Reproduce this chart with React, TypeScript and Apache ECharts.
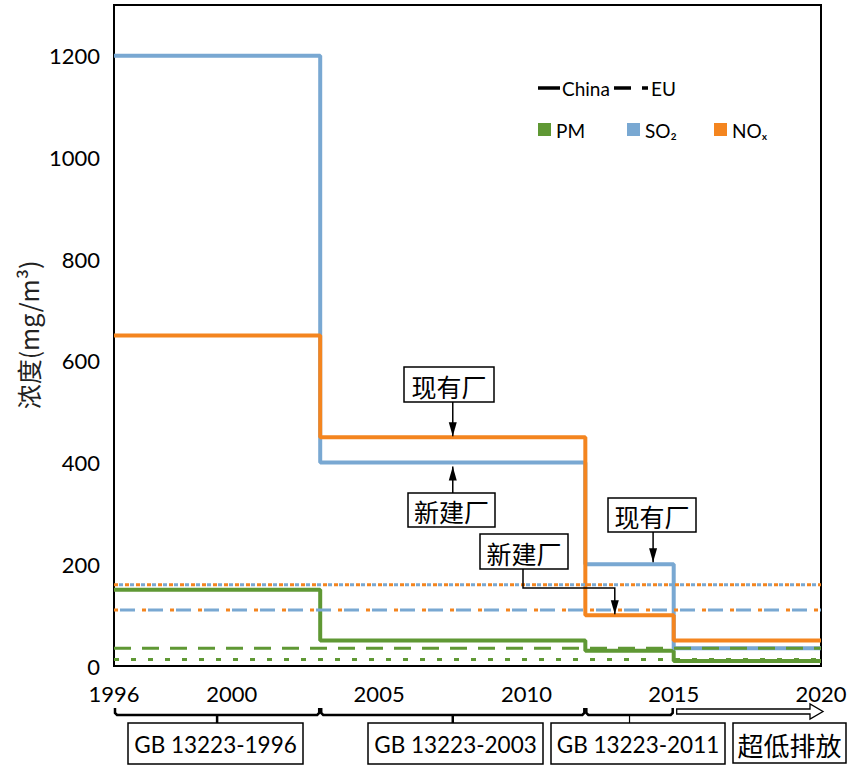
import React, { useEffect, useRef } from "react";
import * as echarts from "echarts";

// ---- data ----
const stepYears = [1996, 2003, 2012, 2015, 2020];
const pmChina = [150, 50, 30, 10, 10];
const so2China = [1200, 400, 200, 35, 35];
const noxChina = [650, 450, 100, 50, 50];

const euYears = [1996, 2020];
const euSo2NoxDotted = [160, 160];
const euSo2NoxDashed = [110, 110];
const euPmDashed = [35, 35];
const euPmDotted = [13, 13];

const xTickLabels = [1996, 2000, 2005, 2010, 2015, 2020];
const yTickLabels = [0, 200, 400, 600, 800, 1000, 1200];

const standards = [
  { name: "GB 13223-1996", from: 1996, to: 2003 },
  { name: "GB 13223-2003", from: 2003, to: 2012 },
  { name: "GB 13223-2011", from: 2012, to: 2015 },
];
const ultraLow = { name: "超低排放", from: 2015, to: 2020 };

const GREEN = "#5f9834";
const BLUE = "#79a8d2";
const ORANGE = "#f4851f";
const LATIN = "Lato, 'Noto Sans', sans-serif";
const CJK = "'Noto Sans CJK SC', 'Noto Sans', sans-serif";

const pairs = (xs: number[], ys: number[]) => xs.map((x, i) => [x, ys[i]]);

export default function App() {
  const ref = useRef<HTMLDivElement>(null);

  useEffect(() => {
    if (!ref.current) return;
    const chart = echarts.init(ref.current, null, { renderer: "svg" });

    const china = (name: string, ys: number[], color: string, z: number) => ({
      type: "line",
      name,
      data: pairs(stepYears, ys),
      step: "end",
      symbol: "none",
      silent: true,
      z,
      lineStyle: { color, width: 4 },
    });
    const eu = (name: string, ys: number[], color: string, dash: number[], offset: number, z: number) => ({
      type: "line",
      name,
      data: pairs(euYears, ys),
      symbol: "none",
      silent: true,
      z,
      lineStyle: { color, width: 3, type: dash, dashOffset: offset },
    });

    const option: any = {
      animation: false,
      backgroundColor: "#fff",
      grid: {
        left: 114,
        right: 30,
        top: 5,
        bottom: 100,
        show: true,
        borderColor: "#000",
        borderWidth: 2,
        backgroundColor: "transparent",
      },
      xAxis: {
        type: "value",
        min: 1996,
        max: 2020,
        interval: 1,
        axisLine: { show: true, lineStyle: { color: "#000", width: 2 } },
        axisTick: { show: false },
        splitLine: { show: false },
        axisLabel: {
          color: "#000",
          fontSize: 22,
          lineHeight: 20,
          fontFamily: LATIN,
          margin: 17,
          formatter: (v: number) => (xTickLabels.includes(v) ? String(v) : ""),
        },
      },
      yAxis: {
        type: "value",
        min: 0,
        max: 1300,
        interval: 200,
        axisLine: { show: true, lineStyle: { color: "#000", width: 2 } },
        axisTick: { show: false },
        splitLine: { show: false },
        axisLabel: {
          color: "#000",
          fontSize: 22,
          lineHeight: 20,
          fontFamily: LATIN,
          margin: 14,
          padding: [0, 0, 8, 0],
          formatter: (v: number) => (yTickLabels.includes(v) ? String(v) : ""),
        },
      },
      series: [
        china("PM China", pmChina, GREEN, 2),
        china("SO2 China", so2China, BLUE, 3),
        china("NOx China", noxChina, ORANGE, 4),
        eu("NOx EU dotted", euSo2NoxDotted, ORANGE, [4, 7], 0, 5),
        eu("SO2 EU dotted", euSo2NoxDotted, BLUE, [4, 7], 5.5, 6),
        eu("NOx EU dashed", euSo2NoxDashed, ORANGE, [4, 24], 0, 5),
        eu("SO2 EU dashed", euSo2NoxDashed, BLUE, [15, 13], 22, 6),
        eu("PM EU dashed", euPmDashed, GREEN, [17, 11], 0, 7),
        eu("PM EU dotted", euPmDotted, GREEN, [5, 12], 0, 7),
      ],
    };
    chart.setOption(option);

    const px = (x: number, y: number) => chart.convertToPixel({ gridIndex: 0 } as any, [x, y]) as number[];
    const X = (year: number) => px(year, 0)[0];
    const Y = (v: number) => px(1996, v)[1];

    const g: any[] = [];
    const Z = 100;
    const box = (x0: number, y0: number, x1: number, y1: number, text: string, fontSize: number, font: string) => {
      g.push({
        type: "rect",
        z: Z,
        shape: { x: x0, y: y0, width: x1 - x0, height: y1 - y0 },
        style: { fill: "#fff", stroke: "#000", lineWidth: 1.5 },
      });
      g.push({
        type: "text",
        z: Z + 1,
        x: (x0 + x1) / 2,
        y: (y0 + y1) / 2 + 1,
        style: { text, fontSize, fontFamily: font, fill: "#000", align: "center", verticalAlign: "middle" },
      });
    };
    const line = (pts: number[][], w = 1.5) =>
      g.push({ type: "polyline", z: Z, shape: { points: pts }, style: { stroke: "#000", lineWidth: w, fill: null } });
    const head = (x: number, y: number, dir: 1 | -1) =>
      g.push({
        type: "polygon",
        z: Z,
        shape: { points: [[x - 4, y - dir * 14], [x + 4, y - dir * 14], [x, y]] },
        style: { fill: "#000" },
      });

    // annotations
    const a1x = X(2007.5);
    box(404, 367, 494, 402, "现有厂", 25, CJK);
    line([[a1x, 402], [a1x, Y(450) - 1]]);
    head(a1x, Y(450) - 1, 1);

    box(408, 493, 495, 527, "新建厂", 25, CJK);
    line([[a1x, 493], [a1x, Y(400) + 4]]);
    head(a1x, Y(400) + 4, -1);

    const a3x = X(2014.3);
    box(608, 498, 696, 532, "现有厂", 25, CJK);
    line([[a3x, 532], [a3x, Y(200) - 2]]);
    head(a3x, Y(200) - 2, 1);

    const a4x = X(2013.0);
    box(480, 534, 568, 569, "新建厂", 25, CJK);
    line([[523, 569], [523, 588], [a4x, 588], [a4x, Y(100) - 1]]);
    head(a4x, Y(100) - 1, 1);

    // braces for standards
    const by = 715;
    const boxes = [
      [128, 303],
      [368, 543],
      [551, 725],
    ];
    standards.forEach((s, i) => {
      const x0 = X(s.from);
      const x1 = X(s.to);
      const xc = (x0 + x1) / 2;
      line(
        [
          [x0 + 1, by - 7],
          [x0 + 1, by - 2],
          [x0 + 3, by],
          [x1 - 3, by],
          [x1 - 1, by - 2],
          [x1 - 1, by - 7],
        ],
        2.5
      );
      line([[xc, by], [xc, 723]], i === 2 ? 1.2 : 2.5);
      box(boxes[i][0], 723, boxes[i][1], 764, s.name, 22.5, LATIN);
    });

    // hollow arrow for ultra-low emission
    const ax0 = X(ultraLow.from) + 3;
    const ax1 = X(ultraLow.to) + 2;
    g.push({
      type: "polygon",
      z: Z,
      shape: {
        points: [
          [ax0, 709],
          [ax1 - 13, 709],
          [ax1 - 13, 704],
          [ax1, 711.5],
          [ax1 - 13, 719],
          [ax1 - 13, 714],
          [ax0, 714],
        ],
      },
      style: { fill: "#fff", stroke: "#000", lineWidth: 1.3 },
    });
    box(733, 723, 846, 763, ultraLow.name, 26, CJK);

    // y-axis title
    g.push({
      type: "text",
      z: Z,
      x: 28,
      y: 335,
      rotation: Math.PI / 2,
      style: {
        text: "浓度(mg/m³)",
        fontSize: 25,
        fontFamily: CJK,
        fill: "#222",
        align: "center",
        verticalAlign: "middle",
      },
    });

    // legend
    g.push({ type: "line", z: Z, shape: { x1: 538, y1: 88, x2: 560, y2: 88 }, style: { stroke: "#000", lineWidth: 3.5 } });
    g.push({ type: "text", z: Z, x: 562, y: 88, style: { text: "China", fontSize: 19, fontFamily: LATIN, fill: "#000", verticalAlign: "middle" } });
    g.push({ type: "line", z: Z, shape: { x1: 614, y1: 88, x2: 631, y2: 88 }, style: { stroke: "#000", lineWidth: 3.5 } });
    g.push({ type: "line", z: Z, shape: { x1: 642, y1: 88, x2: 648, y2: 88 }, style: { stroke: "#000", lineWidth: 3.5 } });
    g.push({ type: "text", z: Z, x: 651, y: 88, style: { text: "EU", fontSize: 19, fontFamily: LATIN, fill: "#000", verticalAlign: "middle" } });

    const legendItems = [
      { x: 538, color: GREEN, text: "PM" },
      { x: 627, color: BLUE, text: "SO₂" },
      { x: 714, color: ORANGE, text: "NOₓ" },
    ];
    legendItems.forEach((it) => {
      g.push({ type: "rect", z: Z, shape: { x: it.x, y: 123, width: 13, height: 13 }, style: { fill: it.color } });
      g.push({
        type: "text",
        z: Z,
        x: it.x + 18,
        y: 130,
        style: { text: it.text, fontSize: 19, fontFamily: LATIN, fill: "#000", verticalAlign: "middle" },
      });
    });

    chart.setOption({ graphic: g });

    return () => chart.dispose();
  }, []);

  return (
    <div
      ref={ref}
      style={{ position: "fixed", left: 0, top: 0, width: 851, height: 766, background: "#fff" }}
    />
  );
}
